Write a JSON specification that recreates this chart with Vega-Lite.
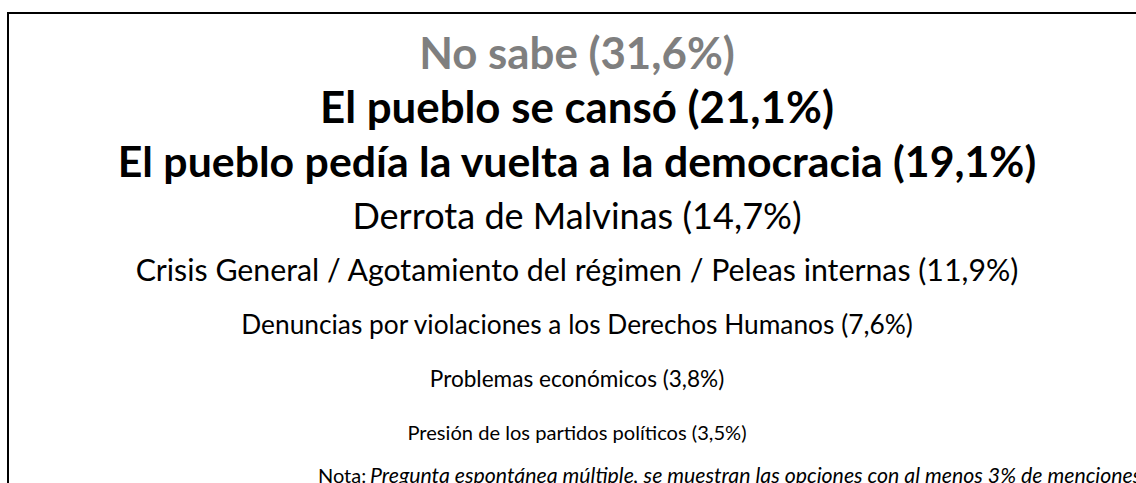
{
  "$schema": "https://vega.github.io/schema/vega-lite/v6.json",
  "width": 1136,
  "height": 483,
  "autosize": {"type": "fit", "contains": "padding"},
  "padding": {"left": 8, "top": 13, "right": -10, "bottom": -10},
  "background": "white",
  "config": {
    "view": {"stroke": "#000000", "strokeWidth": 2},
    "text": {"font": "Lato"}
  },
  "datasets": {
    "respuestas": [
      {"orden": 1, "respuesta": "No sabe", "pct": 31.6},
      {"orden": 2, "respuesta": "El pueblo se cansó", "pct": 21.1},
      {"orden": 3, "respuesta": "El pueblo pedía la vuelta a la democracia", "pct": 19.1},
      {"orden": 4, "respuesta": "Derrota de Malvinas", "pct": 14.7},
      {"orden": 5, "respuesta": "Crisis General / Agotamiento del régimen / Peleas internas", "pct": 11.9},
      {"orden": 6, "respuesta": "Denuncias por violaciones a los Derechos  Humanos", "pct": 7.6},
      {"orden": 7, "respuesta": "Problemas económicos", "pct": 3.8},
      {"orden": 8, "respuesta": "Presión de los partidos políticos", "pct": 3.5}
    ]
  },
  "layer": [
    {
      "data": {"name": "respuestas"},
      "transform": [
        {"calculate": "datum.respuesta + ' (' + replace(format(datum.pct, '.1f'), '.', ',') + '%)'", "as": "texto"}
      ],
      "mark": {"type": "text", "fontWeight": {"expr": "datum.orden <= 3 ? 'bold' : 'normal'"}, "align": "center", "baseline": "middle"},
      "encoding": {
        "x": {"datum": 50, "type": "quantitative", "scale": {"domain": [0, 100], "zero": false, "nice": false}, "axis": null},
        "y": {"field": "orden", "type": "quantitative", "scale": {"domain": [0.2, 9.1], "reverse": true, "zero": false, "nice": false}, "axis": null},
        "text": {"field": "texto"},
        "size": {"field": "orden", "type": "ordinal", "scale": {"type": "ordinal", "domain": [1, 2, 3, 4, 5, 6, 7, 8], "range": [43.8, 43.8, 42.8, 36.1, 30.3, 26.3, 22.6, 20.1]}, "legend": null},
        "color": {"condition": {"test": "datum.orden == 1", "value": "#7f7f7f"}, "value": "#000000"}
      }
    },
    {
      "data": {"values": [{"texto": "Nota:"}]},
      "mark": {"type": "text", "align": "left", "baseline": "alphabetic", "fontSize": 20, "color": "#000000"},
      "encoding": {
        "x": {"datum": 27.24, "type": "quantitative"},
        "y": {"datum": 8.915, "type": "quantitative"},
        "text": {"field": "texto"}
      }
    },
    {
      "data": {"values": [{"texto": "Pregunta espontánea múltiple, se muestran las opciones con al menos 3% de menciones"}]},
      "mark": {"type": "text", "align": "left", "baseline": "alphabetic", "fontSize": 21.3, "fontStyle": "italic", "color": "#000000"},
      "encoding": {
        "x": {"datum": 31.81, "type": "quantitative"},
        "y": {"datum": 8.915, "type": "quantitative"},
        "text": {"field": "texto"}
      }
    }
  ]
}
